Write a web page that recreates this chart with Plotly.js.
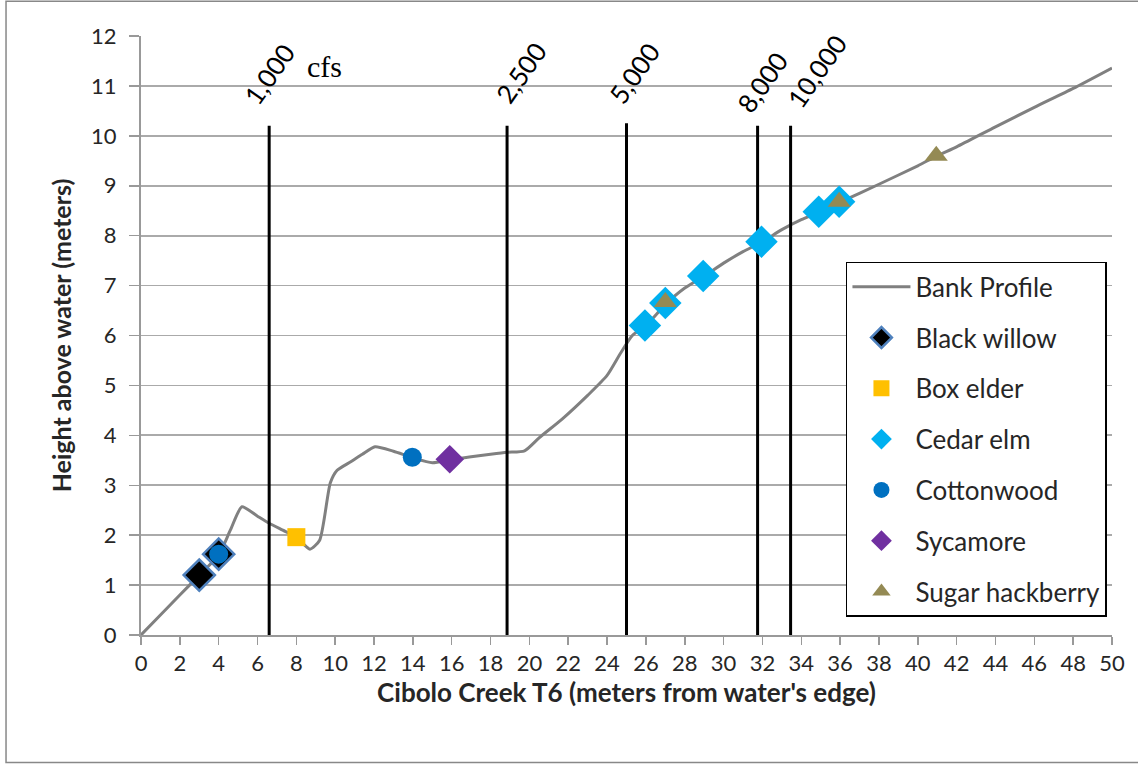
<!DOCTYPE html>
<html><head><meta charset="utf-8">
<script src="https://cdn.plot.ly/plotly-3.0.1.min.js"></script>
<style>html,body{margin:0;padding:0;background:#fff}#chart{width:1138px;height:764px}</style>
</head><body><div id="chart"></div>
<script>
// Bank profile
const profileX = [0,1,2,3,4,4.6,5.2,6,6.6,7.3,8,8.7,9.2,9.75,10.1,10.8,11.4,12.05,13,14,15,16,17,18,18.85,19.75,20.5,21.7,23,24,24.7,25.3,26,27,28,29,30,31,32,33,34,35,36,38,40,41,42,44,46,48,50];
const profileY = [0,0.4,0.8,1.2,1.6,2.1,2.57,2.38,2.24,2.1,1.96,1.72,1.9,3.05,3.3,3.47,3.62,3.77,3.68,3.55,3.45,3.52,3.57,3.62,3.66,3.69,3.95,4.33,4.8,5.2,5.65,6.0,6.2,6.62,6.95,7.19,7.45,7.68,7.88,8.12,8.32,8.48,8.67,9.03,9.4,9.6,9.78,10.18,10.57,10.95,11.36];

// Species observations
const blackWillowX = [3,4];   const blackWillowY = [1.2,1.62];
const boxElderX = [8];        const boxElderY = [1.96];
const cedarElmX = [25.95,27,28.95,31.95,34.9,35.95]; const cedarElmY = [6.2,6.65,7.19,7.88,8.48,8.68];
const cottonwoodX = [4,13.97]; const cottonwoodY = [1.62,3.56];
const sycamoreX = [15.9];     const sycamoreY = [3.52];
const hackberryX = [27,35.95,40.95]; const hackberryY = [6.67,8.68,9.6];

// Flow stage lines (cfs)
const flowLabels = ['1,000','2,500','5,000','8,000','10,000'];
const flowX = [6.6,18.85,25.0,31.75,33.45];
const flowTop = [10.2,10.2,10.25,10.2,10.2];
const flowLabelX = [6.6,19.55,25.4,32.0,34.8];
const flowLabelY = [11.24,11.26,11.26,11.08,11.3];

const xTicks = []; for (let v=0; v<=50; v+=2) xTicks.push(v);
const yTicks = []; for (let v=0; v<=12; v+=1) yTicks.push(v);

const FONT = 'Lato, "Open Sans", sans-serif';
const TXT = '#262626';
const traces = [];
traces.push({x:profileX,y:profileY,mode:'lines',name:'Bank Profile',line:{color:'#808080',width:3,shape:'spline',smoothing:0.6},legendgroup:'a'});
for (let i=0;i<flowX.length;i++){
  traces.push({x:[flowX[i],flowX[i]],y:[0,flowTop[i]],mode:'lines',line:{color:'#000',width:3},showlegend:false,hoverinfo:'skip'});
}
traces.push({x:blackWillowX,y:blackWillowY,mode:'markers',name:'Black willow',legendgroup:'b',marker:{symbol:'diamond',size:24,color:'#000',line:{color:'#4f81bd',width:2.5}}});
traces.push({x:boxElderX,y:boxElderY,mode:'markers',name:'Box elder',legendgroup:'c',marker:{symbol:'square',size:18,color:'#FFC000'}});
traces.push({x:cedarElmX,y:cedarElmY,mode:'markers',name:'Cedar elm',legendgroup:'d',marker:{symbol:'diamond',size:25,color:'#00B0F0'}});
traces.push({x:cottonwoodX,y:cottonwoodY,mode:'markers',name:'Cottonwood',legendgroup:'e',marker:{symbol:'circle',size:19,color:'#0070C0'}});
traces.push({x:sycamoreX,y:sycamoreY,mode:'markers',name:'Sycamore',legendgroup:'f',marker:{symbol:'diamond',size:22,color:'#7030A0'}});
traces.push({x:hackberryX,y:hackberryY,mode:'markers',name:'Sugar hackberry',legendgroup:'g',marker:{symbol:'triangle-up',size:20,color:'#948A54'}});

const annotations = flowLabels.map((t,i)=>({x:flowLabelX[i],y:flowLabelY[i],xref:'x',yref:'y',text:t,showarrow:false,textangle:-55,font:{family:FONT,size:26,color:'#000'}}));
annotations.push({x:9.47,y:11.38,xref:'x',yref:'y',text:'cfs',showarrow:false,font:{family:'"Liberation Serif", serif',size:30,color:'#000'}});

const layout = {
  width:1138,height:764,
  margin:{l:141,r:26,t:36,b:129},
  paper_bgcolor:'#fff',plot_bgcolor:'#fff',
  font:{family:FONT,size:22,color:TXT},
  showlegend:true,
  legend:{x:0.726,y:0.623,xanchor:'left',yanchor:'top',bordercolor:'#000',borderwidth:1.5,bgcolor:'#fff',font:{family:FONT,size:26,color:TXT},traceorder:'grouped',tracegroupgap:14,itemwidth:58},
  xaxis:{range:[0,50],tickvals:xTicks,ticks:'outside',ticklen:8,tickcolor:'#999',tickwidth:1.5,showgrid:false,zeroline:false,showline:true,linecolor:'#999',linewidth:2,tickfont:{family:FONT,size:22,color:TXT},
    title:{text:"<b>Cibolo Creek T6 (meters from water's edge)</b>",font:{family:FONT,size:26,color:TXT},standoff:8},fixedrange:true},
  yaxis:{range:[0,12],tickvals:yTicks,ticks:'outside',ticklen:10,tickcolor:'#999',tickwidth:1.5,showgrid:true,gridcolor:'#aaa',gridwidth:1.8,zeroline:false,showline:true,linecolor:'#999',linewidth:2,tickfont:{family:FONT,size:22,color:TXT},ticklabelstandoff:8,
    title:{text:'<b>Height above water (meters)</b>',font:{family:FONT,size:25,color:TXT},standoff:12},fixedrange:true},
  annotations:annotations,
  shapes:[{type:'rect',xref:'paper',yref:'paper',x0:-0.139,x1:1.03,y0:-0.213,y1:1.058,line:{color:'#888',width:1.5},fillcolor:'rgba(0,0,0,0)'}]
};
Plotly.newPlot('chart',traces,layout,{displayModeBar:false,staticPlot:true});
</script></body></html>
